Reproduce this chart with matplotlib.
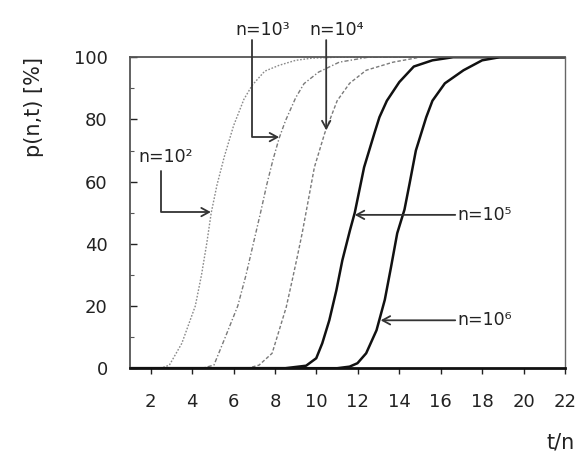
import matplotlib
matplotlib.use("Agg")
import matplotlib.pyplot as plt
from matplotlib.ticker import MultipleLocator

# curves: t/n and p(n,t) in %
t_1e2 = [1.0, 2.5, 2.9, 3.5, 4.15, 4.45, 4.7, 4.92, 5.2, 5.55, 6.0, 6.5, 6.9, 7.5, 8.2, 9.0, 9.8, 11.0, 22.0]
p_1e2 = [0, 0, 1, 8, 20, 30, 40, 50, 59, 68, 78, 86.5, 91, 95.5, 97.4, 99, 99.7, 100, 100]

t_1e3 = [1.0, 4.5, 5.05, 5.6, 6.2, 6.6, 6.95, 7.3, 7.6, 7.9, 8.2, 8.5, 9.0, 9.4, 10.1, 11.1, 12.5, 22.0]
p_1e3 = [0, 0, 1, 10, 20, 30, 40, 50, 59, 67, 74, 79.5, 87, 91.5, 95.2, 98.4, 100, 100]

t_1e4 = [1.0, 6.7, 7.23, 7.86, 8.2, 8.54, 8.83, 9.07, 9.31, 9.55, 9.9, 10.4, 11.0, 11.6, 12.4, 13.7, 15.0, 22.0]
p_1e4 = [0, 0, 1, 4.8, 12.2, 19.6, 28.3, 35.7, 43.4, 52, 64.6, 75.6, 86, 91.6, 95.8, 98.4, 100, 100]

t_1e5 = [1.0, 8.5, 9.5, 9.99, 10.28, 10.62, 10.96, 11.25, 11.62, 11.85, 12.3, 12.8, 13.04, 13.4, 14.0, 14.7, 15.6, 16.6, 22.0]
p_1e5 = [0, 0, 0.8, 3.2, 8, 15.4, 25, 34.7, 44.4, 50, 64.6, 75.6, 80.7, 86, 92, 97, 99, 100, 100]

t_1e6 = [1.0, 11.0, 11.6, 11.98, 12.4, 12.9, 13.3, 13.6, 13.9, 14.25, 14.5, 14.8, 15.3, 15.6, 16.2, 17.1, 18.0, 18.85, 22.0]
p_1e6 = [0, 0, 0.5, 1.6, 4.8, 12.2, 22, 32.5, 43.4, 51, 59.5, 70, 80.7, 86, 91.6, 95.8, 99, 100, 100]

x_ticks = [2, 4, 6, 8, 10, 12, 14, 16, 18, 20, 22]
y_ticks = [0, 20, 40, 60, 80, 100]

# labels: text, text position, arrow start, arrow tip, connection
labels = ["n=10²", "n=10³", "n=10⁴", "n=10⁵", "n=10⁶"]
label_xy = [(2.73, 67.8), (7.42, 108.7), (11.0, 108.7), (16.8, 49.3), (16.8, 15.4)]
label_ha = ["center", "center", "center", "left", "left"]
arrow_from = [(2.48, 63.5), (6.9, 105.5), (10.47, 105.5), (16.7, 49.3), (16.7, 15.4)]
arrow_to = [(4.9, 50.2), (8.2, 74.3), (10.47, 76.5), (11.85, 49.3), (13.1, 15.4)]
arrow_conn = ["angle,angleA=90,angleB=0,rad=0", "angle,angleA=90,angleB=0,rad=0",
              "arc3", "arc3", "arc3"]


def main():
    plt.rcParams["font.family"] = ["DejaVu Sans"]
    fig = plt.figure(figsize=(5.78, 4.54), dpi=100)
    ax = fig.add_axes([0.225, 0.189, 0.7525, 0.685])

    ax.plot(t_1e2, p_1e2, color="#8a8a8a", lw=1.0, ls=(0, (1.2, 1.2)))
    ax.plot(t_1e3, p_1e3, color="#7a7a7a", lw=1.0, ls=(0, (3, 1.5, 1, 1.5)))
    ax.plot(t_1e4, p_1e4, color="#7a7a7a", lw=1.0, ls=(0, (2.5, 1.5)))
    ax.plot(t_1e5, p_1e5, color="#111111", lw=1.8)
    ax.plot(t_1e6, p_1e6, color="#111111", lw=1.8)

    for txt, xy, ha, a, b, conn in zip(labels, label_xy, label_ha,
                                       arrow_from, arrow_to, arrow_conn):
        ax.text(xy[0], xy[1], txt, ha=ha, va="center", fontsize=12.5,
                color="#222222", clip_on=False)
        ax.annotate("", xy=b, xytext=a, annotation_clip=False,
                    arrowprops=dict(arrowstyle="->,head_length=0.55,head_width=0.3",
                                    color="#333333", lw=1.3,
                                    connectionstyle=conn,
                                    shrinkA=0, shrinkB=0))

    ax.set_xlim(1, 22)
    ax.set_ylim(0, 100)
    ax.set_xticks(x_ticks)
    ax.set_yticks(y_ticks)
    ax.yaxis.set_minor_locator(MultipleLocator(10))
    ax.tick_params(axis="x", direction="out", length=4, width=1, pad=14,
                   labelsize=13, colors="#222222")
    ax.tick_params(axis="y", direction="in", length=5, width=1, pad=16,
                   labelsize=13, colors="#222222")
    ax.tick_params(axis="y", which="minor", direction="in", length=3, width=0.8,
                   colors="#555555")

    ax.spines["bottom"].set_linewidth(2.0)
    ax.spines["bottom"].set_color("#111111")
    for s in ["left", "top"]:
        ax.spines[s].set_linestyle((0, (1, 1)))
        ax.spines[s].set_linewidth(1.3)
        ax.spines[s].set_color("#555555")
    ax.spines["right"].set_linewidth(1.0)
    ax.spines["right"].set_color("#666666")

    fig.text(34 / 578, 1 - 107 / 454, "p(n,t) [%]", rotation=90,
             ha="center", va="center", fontsize=15, color="#222222")
    fig.text(575 / 578, 1 - 442 / 454, "t/n", ha="right", va="center",
             fontsize=15, color="#222222")

    fig.savefig("out.png", dpi=100)


if __name__ == "__main__":
    main()
